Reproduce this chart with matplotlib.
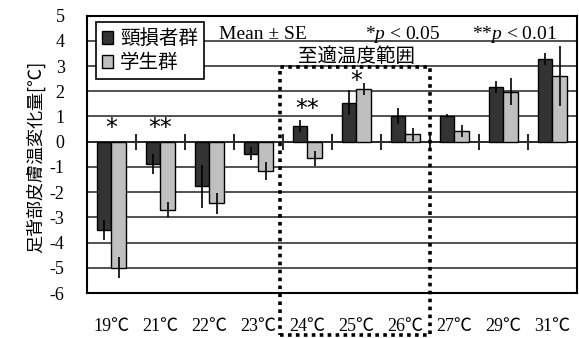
import numpy as np
import matplotlib.pyplot as plt
from matplotlib.patches import Rectangle

plt.rcParams['font.family'] = ['Liberation Serif', 'Noto Sans CJK JP']
plt.rcParams['mathtext.fontset'] = 'custom'
plt.rcParams['mathtext.rm'] = 'Liberation Serif'
plt.rcParams['mathtext.it'] = 'Liberation Serif:italic'

# 温度条件ごとの足背部皮膚温変化量 (平均 ± SE)
temps = ['19℃', '21℃', '22℃', '23℃', '24℃', '25℃', '26℃', '27℃', '29℃', '31℃']
sci_mean = [-3.5, -0.9, -1.76, -0.47, 0.62, 1.55, 1.02, 1.03, 2.16, 3.28]
sci_se = [0.4, 0.4, 0.85, 0.25, 0.23, 0.48, 0.3, 0.05, 0.25, 0.23]
stu_mean = [-5.0, -2.7, -2.45, -1.16, -0.66, 2.08, 0.29, 0.42, 1.98, 2.6]
stu_se = [0.42, 0.3, 0.42, 0.36, 0.3, 0.24, 0.27, 0.23, 0.53, 1.2]
sig = ['*', '**', '', '', '**', '*', '', '', '', '']
sig_y = [0.55, 0.55, 0, 0, 1.3, 2.4, 0, 0, 0, 0]

x = np.arange(len(temps))
w = 0.3
ymin, ymax = -6, 5

fig = plt.figure(figsize=(5.79, 3.38), dpi=100)
ax = fig.add_axes([0.150, 0.133, 0.8465, 0.821])

ax.bar(x - w / 2, sci_mean, w, color='#333333', edgecolor='black', lw=1, label='頸損者群', zorder=2)
ax.bar(x + w / 2, stu_mean, w, color='#bfbfbf', edgecolor='black', lw=1, label='学生群', zorder=2)
ax.errorbar(x - w / 2, sci_mean, yerr=sci_se, fmt='none', ecolor='black', elinewidth=1.2, capsize=0, zorder=3)
ax.errorbar(x + w / 2, stu_mean, yerr=stu_se, fmt='none', ecolor='black', elinewidth=1.2, capsize=0, zorder=3)

ax.set_xlim(-0.5, len(temps) - 0.5)
ax.set_ylim(ymin, ymax)
ax.set_yticks(np.arange(ymin, ymax + 1))
ax.set_yticklabels([str(v) for v in range(ymin, ymax + 1)], fontsize=13)
ax.set_xticks(x)
ax.set_xticklabels(temps, fontsize=13)
ax.tick_params(axis='y', length=0, pad=16)
ax.tick_params(axis='x', length=0, pad=18)
ax.yaxis.grid(True, color='#333333', lw=1.2)
ax.set_axisbelow(True)
for s in ax.spines.values():
    s.set_linewidth(1.5)

# ゼロ線と区切りの目盛り
zero = ax.secondary_xaxis((0 - ymin) / (ymax - ymin))
zero.set_xticks(np.arange(0.5, len(temps) - 1))
zero.tick_params(direction='inout', length=12, width=1.2, labeltop=False, labelbottom=False)
for s in zero.spines.values():
    s.set_linewidth(1.3)

ax.set_ylabel('足背部皮膚温変化量[℃]', family='Noto Sans CJK JP', fontsize=13)
ax.yaxis.set_label_coords(-0.084, 0.49)

for xi, s, yi in zip(x, sig, sig_y):
    if s:
        ax.text(xi, yi, s, ha='center', va='center', fontsize=17, family='DejaVu Sans')

ax.text(2.2, 4.07, 'Mean ± SE', fontsize=14, va='baseline')
ax.text(5.17, 4.07, '*$p$ < 0.05', fontsize=14, va='baseline')
ax.text(7.36, 4.07, '**$p$ < 0.01', fontsize=14, va='baseline')
ax.text(5.0, 3.36, '至適温度範囲', family='Noto Sans CJK JP', fontsize=14, ha='center', va='center')

# 至適温度範囲の点線枠
ax.add_patch(Rectangle((3.45, -7.65), 3.05, 10.6, fill=False, ls=(0, (1, 1.2)), lw=2.6,
                       edgecolor='black', clip_on=False, zorder=4))

leg = ax.legend(loc='upper left', bbox_to_anchor=(0.018, 0.975), borderaxespad=0,
                prop={'family': 'Noto Sans CJK JP', 'size': 14}, fancybox=False,
                framealpha=1, edgecolor='black', handlelength=0.6, handleheight=0.6,
                handletextpad=0.35, labelspacing=0.15, borderpad=0.3)
leg.get_frame().set_linewidth(1.2)

fig.savefig('out.png', dpi=100)
